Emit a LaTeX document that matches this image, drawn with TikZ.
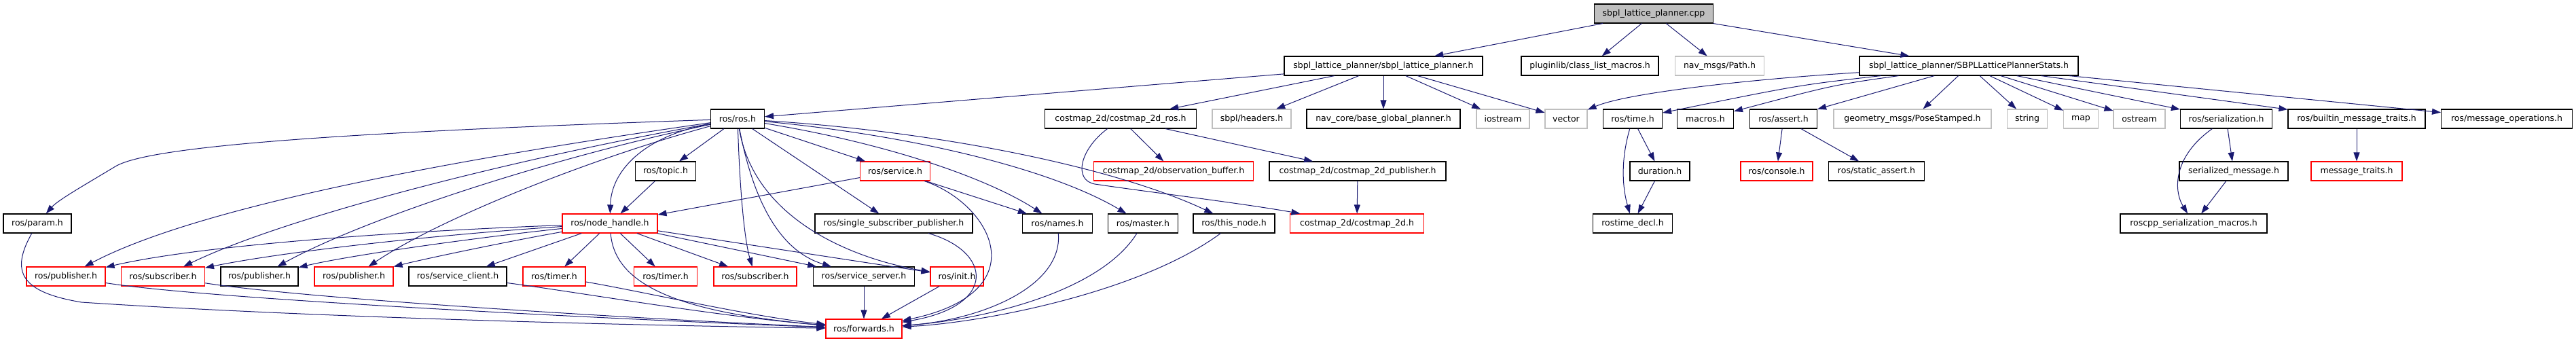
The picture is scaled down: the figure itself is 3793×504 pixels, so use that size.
\documentclass[tikz,border=0pt]{standalone}
\usepackage{fontspec}
\setmainfont{DejaVu Sans}
\usetikzlibrary{arrows.meta}
\definecolor{edgec}{HTML}{191970}
\definecolor{redb}{HTML}{FF0000}
\definecolor{grayb}{HTML}{BFBFBF}
\begin{document}
\begin{tikzpicture}[x=1pt,y=-1pt,
  base/.style={rectangle,line width=1.1pt,minimum height=28pt,inner xsep=0pt,inner ysep=0pt,font=\fontsize{12.5}{14}\selectfont,fill=white},
  nb/.style={base,draw=black},
  nr/.style={base,draw=redb},
  ng/.style={base,draw=grayb},
  root/.style={base,draw=black,fill=grayb},
  e/.style={draw=edgec,line width=1pt,-{Triangle[length=13pt,width=9pt]}}]
\useasboundingbox (0,0) rectangle (3793,504);
% row 0
\node[root,minimum width=175pt] (cpp) at (2435,20) {sbpl\_lattice\_planner.cpp};
% row 1
\node[nb,minimum width=292pt] (slp) at (2037,97) {sbpl\_lattice\_planner/sbpl\_lattice\_planner.h};
\node[nb,minimum width=202pt] (plug) at (2341,97) {pluginlib/class\_list\_macros.h};
\node[ng,minimum width=131pt] (path) at (2532,97) {nav\_msgs/Path.h};
\node[nb,minimum width=322pt] (stats) at (2899,97) {sbpl\_lattice\_planner/SBPLLatticePlannerStats.h};
% row 2
\node[nb,minimum width=79pt] (rosh) at (1086,175) {ros/ros.h};
\node[nb,minimum width=223pt] (cmros) at (1650,175) {costmap\_2d/costmap\_2d\_ros.h};
\node[ng,minimum width=116pt] (sbplh) at (1843,175) {sbpl/headers.h};
\node[nb,minimum width=226pt] (navcore) at (2037,175) {nav\_core/base\_global\_planner.h};
\node[ng,minimum width=78pt] (iostream) at (2213,175) {iostream};
\node[ng,minimum width=62pt] (vector) at (2306,175) {vector};
\node[nb,minimum width=87pt] (timeh) at (2404,175) {ros/time.h};
\node[nb,minimum width=83pt] (macros) at (2511,175) {macros.h};
\node[nb,minimum width=99pt] (assert) at (2626,175) {ros/assert.h};
\node[ng,minimum width=232pt] (pose) at (2816,175) {geometry\_msgs/PoseStamped.h};
\node[ng,minimum width=59pt] (string) at (2985,175) {string};
\node[ng,minimum width=51pt] (map) at (3064,175) {map};
\node[ng,minimum width=76pt] (ostream) at (3150,175) {ostream};
\node[nb,minimum width=135pt] (serial) at (3278,175) {ros/serialization.h};
\node[nb,minimum width=202pt] (builtin) at (3470,175) {ros/builtin\_message\_traits.h};
\node[nb,minimum width=193pt] (msgops) at (3691,175) {ros/message\_operations.h};
% row 3
\node[nb,minimum width=89pt] (topic) at (980,252) {ros/topic.h};
\node[nr,minimum width=103pt] (service) at (1318,252) {ros/service.h};
\node[nr,minimum width=235pt] (obsbuf) at (1728,252) {costmap\_2d/observation\_buffer.h};
\node[nb,minimum width=260pt] (cmpub) at (1999,252) {costmap\_2d/costmap\_2d\_publisher.h};
\node[nb,minimum width=88pt] (duration) at (2444,252) {duration.h};
\node[nr,minimum width=106pt] (console) at (2616,252) {ros/console.h};
\node[nb,minimum width=141pt] (sassert) at (2763,252) {ros/static\_assert.h};
\node[nb,minimum width=160pt] (sermsg) at (3289,252) {serialized\_message.h};
\node[nr,minimum width=134pt] (msgtraits) at (3470,252) {message\_traits.h};
% row 4
\node[nb,minimum width=100pt] (param) at (55,329) {ros/param.h};
\node[nr,minimum width=140pt] (nh) at (898,329) {ros/node\_handle.h};
\node[nb,minimum width=232pt] (ssp) at (1316,329) {ros/single\_subscriber\_publisher.h};
\node[nb,minimum width=103pt] (names) at (1557,329) {ros/names.h};
\node[nb,minimum width=103pt] (master) at (1683,329) {ros/master.h};
\node[nb,minimum width=120pt] (thisnode) at (1817,329) {ros/this\_node.h};
\node[nr,minimum width=197pt] (c2d) at (1998,329) {costmap\_2d/costmap\_2d.h};
\node[nb,minimum width=117pt] (rtdecl) at (2404,329) {rostime\_decl.h};
\node[nb,minimum width=216pt] (rcppmac) at (3230,329) {roscpp\_serialization\_macros.h};
% row 5
\node[nr,minimum width=116pt] (pub1) at (97,407) {ros/publisher.h};
\node[nr,minimum width=123pt] (sub1) at (240,407) {ros/subscriber.h};
\node[nb,minimum width=114pt] (pub2) at (382,407) {ros/publisher.h};
\node[nr,minimum width=116pt] (pub3) at (521,407) {ros/publisher.h};
\node[nb,minimum width=144pt] (sclient) at (674,407) {ros/service\_client.h};
\node[nr,minimum width=92pt] (timer1) at (816,407) {ros/timer.h};
\node[nr,minimum width=93pt] (timer2) at (980,407) {ros/timer.h};
\node[nr,minimum width=122pt] (sub2) at (1112,407) {ros/subscriber.h};
\node[nb,minimum width=149pt] (sserver) at (1272,407) {ros/service\_server.h};
\node[nr,minimum width=78pt] (init) at (1409,407) {ros/init.h};
% row 6
\node[nr,minimum width=112pt] (fwd) at (1272,484) {ros/forwards.h};

% edges from cpp
\draw[e] (cpp) -- (slp);
\draw[e] (cpp) -- (plug);
\draw[e] (cpp) -- (path);
\draw[e] (cpp) -- (stats);
% from sbpl_lattice_planner.h
\draw[e] (slp) -- (rosh);
\draw[e] (slp) -- (cmros);
\draw[e] (slp) -- (sbplh);
\draw[e] (slp) -- (navcore);
\draw[e] (slp) -- (iostream);
\draw[e] (slp) -- (vector);
% from stats
\draw[e] (stats) .. controls (2600,115) and (2400,135) .. (vector);
\draw[e] (stats) .. controls (2650,125) .. (timeh);
\draw[e] (stats) .. controls (2700,125) .. (macros);
\draw[e] (stats) -- (assert);
\draw[e] (stats) -- (pose);
\draw[e] (stats) -- (string);
\draw[e] (stats) -- (map);
\draw[e] (stats) -- (ostream);
\draw[e] (stats) -- (serial);
\draw[e] (stats) -- (builtin);
\draw[e] (stats) -- (msgops);
% costmap
\draw[e] (cmros) -- (obsbuf);
\draw[e] (cmros) -- (cmpub);
\draw[e] (cmros) .. controls (1590,220) and (1580,265) .. (1612,271) .. controls (1700,284) and (1820,298) .. (c2d);
\draw[e] (cmpub) -- (c2d);
% ros.h
\draw[e] (rosh) .. controls (500,195) and (220,215) .. (170,245) .. controls (120,275) and (85,295) .. (param);
\draw[e] (rosh) .. controls (700,230) and (300,300) .. (pub1);
\draw[e] (rosh) .. controls (750,235) and (420,320) .. (sub1);
\draw[e] (rosh) .. controls (820,230) and (540,320) .. (pub2);
\draw[e] (rosh) .. controls (880,230) and (650,320) .. (pub3);
\draw[e] (rosh) .. controls (950,200) and (900,250) .. (nh);
\draw[e] (rosh) -- (topic);
\draw[e] (rosh) .. controls (1090,300) and (1098,360) .. (sub2);
\draw[e] (rosh) .. controls (1110,300) and (1150,370) .. (sserver);
\draw[e] (rosh) .. controls (1110,320) and (1250,380) .. (init);
\draw[e] (rosh) -- (ssp);
\draw[e] (rosh) -- (service);
\draw[e] (rosh) .. controls (1300,210) and (1450,260) .. (names);
\draw[e] (rosh) .. controls (1350,200) and (1550,250) .. (master);
\draw[e] (rosh) .. controls (1400,195) and (1650,250) .. (thisnode);
% service / topic
\draw[e] (service) -- (names);
\draw[e] (service) -- (nh);
\draw[e] (service) .. controls (1460,300) and (1530,430) .. (fwd);
\draw[e] (topic) -- (nh);
% row 4 to forwards
\draw[e] (ssp) .. controls (1460,370) and (1470,450) .. (fwd);
\draw[e] (names) .. controls (1565,420) and (1450,470) .. (fwd);
\draw[e] (master) .. controls (1620,430) and (1450,470) .. (fwd);
\draw[e] (thisnode) .. controls (1680,430) and (1450,475) .. (fwd);
% node_handle
\draw[e] (nh) .. controls (600,340) and (300,360) .. (pub1);
\draw[e] (nh) .. controls (650,345) and (420,370) .. (sub1);
\draw[e] (nh) .. controls (700,350) and (520,375) .. (pub2);
\draw[e] (nh) .. controls (750,355) and (630,380) .. (pub3);
\draw[e] (nh) -- (sclient);
\draw[e] (nh) -- (timer1);
\draw[e] (nh) -- (timer2);
\draw[e] (nh) -- (sub2);
\draw[e] (nh) -- (sserver);
\draw[e] (nh) -- (init);
\draw[e] (nh) .. controls (905,420) and (1000,460) .. (fwd);
% row 5 to forwards
\draw[e] (pub1) .. controls (300,440) and (900,470) .. (fwd);
\draw[e] (sub1) .. controls (450,440) and (950,470) .. (fwd);
\draw[e] (sclient) .. controls (850,430) and (1050,465) .. (fwd);
\draw[e] (timer1) .. controls (950,430) and (1100,465) .. (fwd);
\draw[e] (param) .. controls (15,400) and (30,430) .. (120,445) .. controls (500,470) and (1000,480) .. (fwd);
\draw[e] (sserver) -- (fwd);
\draw[e] (init) -- (fwd);
% time
\draw[e] (timeh) -- (duration);
\draw[e] (timeh) .. controls (2385,240) and (2390,280) .. (rtdecl);
\draw[e] (duration) -- (rtdecl);
% assert
\draw[e] (assert) -- (console);
\draw[e] (assert) -- (sassert);
% serialization
\draw[e] (serial) -- (sermsg);
\draw[e] (serial) .. controls (3200,230) and (3200,280) .. (rcppmac);
\draw[e] (sermsg) -- (rcppmac);
\draw[e] (builtin) -- (msgtraits);
\end{tikzpicture}
\end{document}
